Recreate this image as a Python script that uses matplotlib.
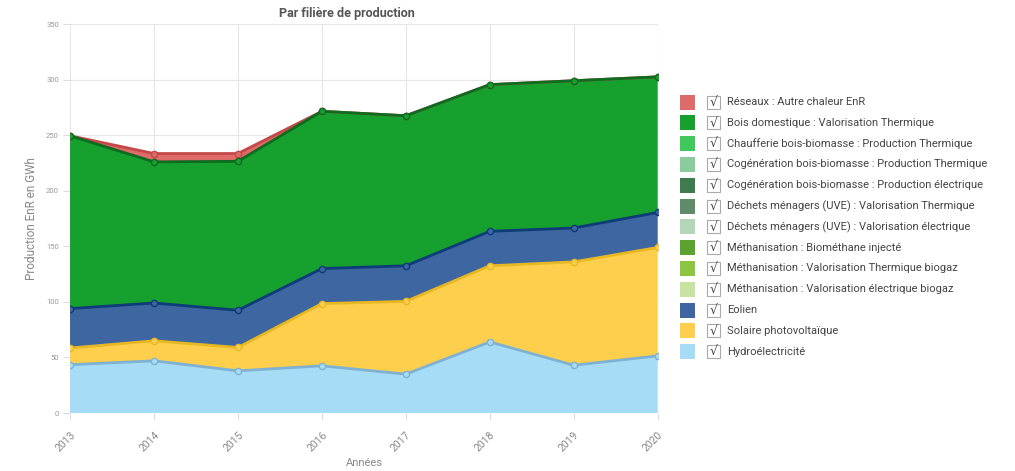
import matplotlib.pyplot as plt
import matplotlib.transforms as mtransforms
import numpy as np
from matplotlib.patches import Rectangle

plt.rcParams['font.family'] = ['Roboto', 'DejaVu Sans']

years = [2013, 2014, 2015, 2016, 2017, 2018, 2019, 2020]

# series, bottom of the stack first
labels = [
    'Hydroélectricité',
    'Solaire photovoltaïque',
    'Eolien',
    'Méthanisation : Valorisation électrique biogaz',
    'Méthanisation : Valorisation Thermique biogaz',
    'Méthanisation : Biométhane injecté',
    'Déchets ménagers (UVE) : Valorisation électrique',
    'Déchets ménagers (UVE) : Valorisation Thermique',
    'Cogénération bois-biomasse : Production électrique',
    'Cogénération bois-biomasse : Production Thermique',
    'Chaufferie bois-biomasse : Production Thermique',
    'Bois domestique : Valorisation Thermique',
    'Réseaux : Autre chaleur EnR',
]
hydro = [43.5, 47, 38, 42.5, 35, 64, 43, 51.5]
solaire = [15, 18, 21, 56, 65.5, 68.5, 93, 97.5]
eolien = [35.5, 34, 33.5, 31.5, 32, 31, 30.5, 31.5]
meth_elec = [0, 0, 0, 0, 0, 0, 0, 0]
meth_therm = [0, 0, 0, 0, 0, 0, 0, 0]
meth_inj = [0, 0, 0, 0, 0, 0, 0, 0]
dechets_elec = [0, 0, 0, 0, 0, 0, 0, 0]
dechets_therm = [0, 0, 0, 0, 0, 0, 0, 0]
cogen_elec = [0, 0, 0, 0, 0, 0, 0, 0]
cogen_therm = [0, 0, 0, 0, 0, 0, 0, 0]
chaufferie = [0, 0, 0, 0, 0, 0, 0, 0]
bois = [155.5, 127, 134, 141.5, 135, 132, 132.5, 122]
reseaux = [0, 7.5, 7, 0, 0, 0, 0, 0]

series = [hydro, solaire, eolien, meth_elec, meth_therm, meth_inj,
          dechets_elec, dechets_therm, cogen_elec, cogen_therm,
          chaufferie, bois, reseaux]
fills = ['#a6dcf5', '#fdcf4c', '#3e66a0', '#c6e3a2', '#8cc640', '#5ba22e',
         '#b3d6b8', '#5f8b69', '#3e7c50', '#8acc9b', '#3fc85c', '#16a02e',
         '#de6a6a']
edges = ['#7fb2d2', '#e8b824', '#0e3c78', '#a9cc80', '#6ea42a', '#3f8220',
         '#90b896', '#456e4f', '#2a5e38', '#6aae7c', '#28a042', '#0d6c1f',
         '#c44848']

fig = plt.figure(figsize=(10.15, 4.71), dpi=100)
ax = fig.add_axes([0.069, 0.123, 0.579, 0.826])

data = np.array(series, dtype=float)
ax.stackplot(years, data, colors=fills, linewidth=0, zorder=2)
tops = np.cumsum(data, axis=0)
for i in range(len(series)):
    if not np.any(data[i]):
        continue
    # lower series on top, so a zero layer hides behind the one below it
    ax.plot(years, tops[i], color=edges[i], lw=2, zorder=30 - i,
            marker='o', ms=4.5, mfc=fills[i], mec=edges[i], mew=1)

ax.set_xlim(2013, 2020)
ax.set_ylim(0, 350)
ax.set_xticks(years)
ax.set_yticks(range(0, 351, 50))
ax.set_xticklabels([str(y) for y in years], rotation=45, ha='right',
                   rotation_mode='anchor', fontsize=7.5, color='#888888')
# nudge rotated year labels a little to the right, like the original
shift = mtransforms.ScaledTranslation(6 / 100, 0, fig.dpi_scale_trans)
for t in ax.get_xticklabels():
    t.set_transform(t.get_transform() + shift)
ax.tick_params(axis='y', labelsize=5.5, labelcolor='#999999', length=5,
               color='#dddddd', pad=3)
ax.tick_params(axis='x', length=5, color='#dddddd', pad=7)
ax.grid(True, color='#e6e6e6', lw=0.8, zorder=0)
for s in ax.spines.values():
    s.set_visible(False)
ax.set_axisbelow(True)

ax.set_title('Par filière de production', fontsize=9, fontweight='bold',
             color='#555555', pad=5, x=0.471)
ax.set_ylabel('Production EnR en GWh', fontsize=8.5, color='#888888', labelpad=6)
ax.set_xlabel('Années', fontsize=8, color='#888888', labelpad=3)

# legend, drawn by hand: colour square, check box, label
W, H = 1015, 471
y0, dy = 102, 20.8
for k, i in enumerate(range(len(series) - 1, -1, -1)):
    yc = y0 + k * dy
    fig.patches.append(Rectangle((680 / W, (H - yc - 7.5) / H), 15 / W, 15 / H,
                                 transform=fig.transFigure, facecolor=fills[i],
                                 edgecolor='none'))
    fig.patches.append(Rectangle((707 / W, (H - yc - 6.5) / H), 13 / W, 13 / H,
                                 transform=fig.transFigure, facecolor='white',
                                 edgecolor='#aaaaaa', lw=0.8))
    fig.text(713.5 / W, (H - yc) / H, '√', fontsize=9, color='#444444',
             ha='center', va='center', family='DejaVu Sans')
    fig.text(727 / W, (H - yc) / H, labels[i], fontsize=8, color='#444444',
             va='center', ha='left')

fig.savefig('out.png', dpi=100)
